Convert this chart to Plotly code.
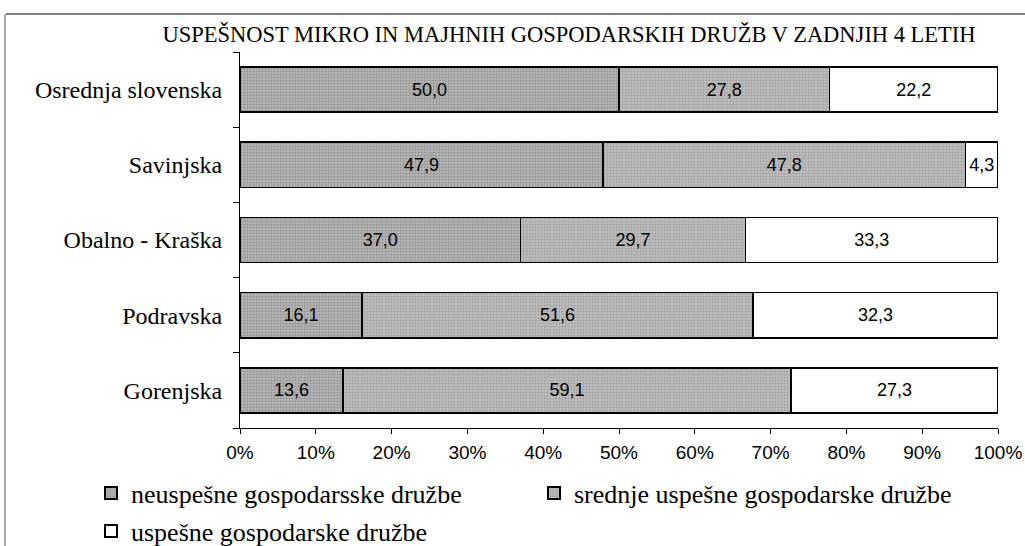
import plotly.graph_objects as go

title = "USPEŠNOST MIKRO IN MAJHNIH GOSPODARSKIH DRUŽB V ZADNJIH 4 LETIH"
regions = ["Osrednja slovenska", "Savinjska", "Obalno - Kraška", "Podravska", "Gorenjska"]
neuspesne = [50.0, 47.9, 37.0, 16.1, 13.6]
srednje = [27.8, 47.8, 29.7, 51.6, 59.1]
uspesne = [22.2, 4.3, 33.3, 32.3, 27.3]
series_names = ["neuspešne gospodarsske družbe", "srednje uspešne gospodarske družbe", "uspešne gospodarske družbe"]
tick_vals = [0, 10, 20, 30, 40, 50, 60, 70, 80, 90, 100]
tick_text = [f"{v}%" for v in tick_vals]

serif = "Liberation Serif"
sans = "Liberation Sans"

fills = [
    dict(color="#a4a4a4", pattern=dict(shape=".", fgcolor="#6e6e6e", bgcolor="#b4b4b4", size=3, solidity=0.35)),
    dict(color="#ababab", pattern=dict(shape=".", fgcolor="#808080", bgcolor="#bdbdbd", size=3, solidity=0.3)),
    dict(color="#ffffff"),
]
legend_ids = ["legend", "legend2", "legend3"]

fig = go.Figure()
for name, vals, f, lg in zip(series_names, [neuspesne, srednje, uspesne], fills, legend_ids):
    fig.add_trace(go.Bar(
        y=regions, x=vals, name=name, orientation="h", legend=lg, showlegend=True,
        marker=dict(line=dict(color="black", width=1.5), **f),
        texttemplate="%{x:.1f}", textposition="inside", insidetextanchor="middle",
        textangle=0, constraintext="none",
        textfont=dict(family=sans, size=18, color="black"),
        hoverinfo="skip",
    ))

W, H = 1025, 546
L, R, T, B = 240, 27, 52, 118
PW, PH = W - L - R, H - T - B


def px_x(px):
    return (px - L) / PW


def px_y(py):
    return (H - B - py) / PH


leg_common = dict(orientation="h", xanchor="left", yanchor="middle",
                  font=dict(family=serif, size=26, color="black"), itemsizing="constant",
                  bgcolor="rgba(0,0,0,0)")

fig.update_layout(
    width=W, height=H,
    showlegend=True,
    barmode="stack", bargap=0.4,
    separators=",.",
    font=dict(family=serif, color="black"),
    paper_bgcolor="white", plot_bgcolor="white",
    margin=dict(l=L, r=R, t=T, b=B, autoexpand=False),
    title=dict(text=title, x=569 / W, xanchor="center", y=1 - 34 / H, yanchor="middle",
               font=dict(family=serif, size=22.5, color="black")),
    xaxis=dict(range=[0, 100], tickmode="array", tickvals=tick_vals, ticktext=tick_text, showgrid=False,
               showline=True, linecolor="black", linewidth=1, ticks="outside", ticklen=5,
               tickcolor="black", zeroline=False, ticklabelstandoff=2, automargin=False,
               tickfont=dict(family=sans, size=19, color="black")),
    yaxis=dict(categoryorder="array", categoryarray=regions[::-1], showgrid=False,
               showline=True, linecolor="black", linewidth=1, ticks="outside", ticklen=6,
               tickson="boundaries", tickcolor="black", ticklabelstandoff=12, automargin=False,
               tickfont=dict(family=serif, size=24, color="black")),
    legend=dict(x=px_x(91), y=px_y(493), visible=True, **leg_common),
    legend2=dict(x=px_x(534), y=px_y(493), **leg_common),
    legend3=dict(x=px_x(91), y=px_y(531), **leg_common),
    shapes=[
        dict(type="line", xref="paper", yref="paper", x0=px_x(6), x1=px_x(W),
             y0=px_y(14), y1=px_y(14), line=dict(color="#555", width=1.5)),
        dict(type="line", xref="paper", yref="paper", x0=px_x(5), x1=px_x(5),
             y0=px_y(14), y1=px_y(H), line=dict(color="#555", width=1)),
    ],
)

fig.write_html("out.html", config={"displayModeBar": False},
               post_script="document.body.style.margin='0';document.body.style.padding='0';")
